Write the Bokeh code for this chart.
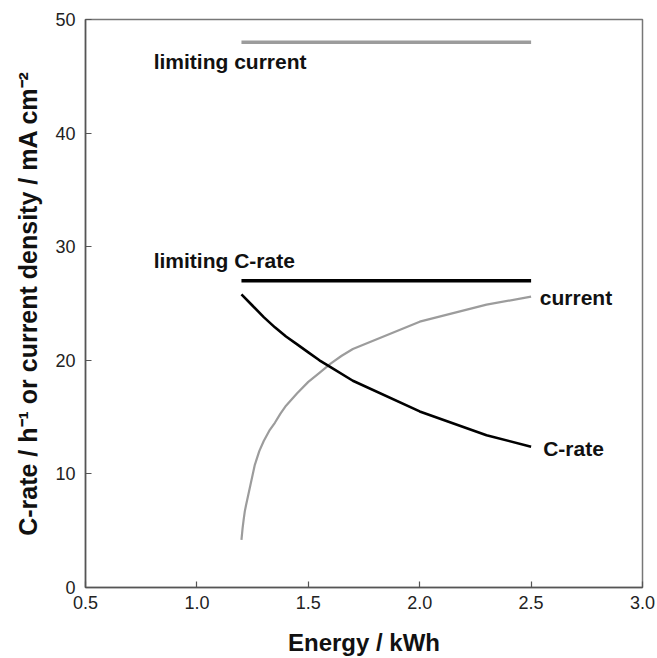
from bokeh.plotting import figure
from bokeh.models import Range1d, FixedTicker, NumeralTickFormatter, Label
from bokeh.embed import file_html
from bokeh.resources import INLINE

# Battery pack energy (kWh) and the resulting C-rate / current density
energy_crate = [1.2, 1.25, 1.3, 1.35, 1.4, 1.45, 1.5, 1.55, 1.6, 1.7, 2.0, 2.3, 2.5]
crate = [25.8, 24.8, 23.8, 22.9, 22.1, 21.4, 20.7, 20.0, 19.4, 18.2, 15.5, 13.4, 12.4]

energy_current = [1.2, 1.205, 1.21, 1.215, 1.22, 1.23, 1.24, 1.26, 1.28, 1.3,
                  1.325, 1.35, 1.375, 1.4, 1.45, 1.5, 1.55, 1.6, 1.65, 1.7,
                  2.0, 2.3, 2.5]
current = [4.2, 5.2, 6.0, 6.7, 7.2, 8.1, 9.0, 10.8, 12.0, 12.9,
           13.8, 14.5, 15.3, 16.0, 17.1, 18.1, 18.9, 19.7, 20.4, 21.0,
           23.4, 24.9, 25.6]

# Horizontal limits
limit_energy = [1.2, 2.5]
limiting_current = [48.0, 48.0]
limiting_crate = [27.0, 27.0]

x_ticks = [0.5, 1.0, 1.5, 2.0, 2.5, 3.0]
y_ticks = [0, 10, 20, 30, 40, 50]

# Annotation texts and anchor points (data units)
note_texts = ["limiting current", "limiting C-rate", "current", "C-rate"]
note_x = [0.806, 0.806, 2.539, 2.554]
note_y = [46.3, 28.8, 25.5, 12.2]

FONT = "Liberation Sans"
GRAY = "#9c9c9c"
AXIS = "#555555"

p = figure(width=657, height=658, output_backend="svg", toolbar_location=None,
           x_range=Range1d(0.5, 3.0), y_range=Range1d(0, 50),
           min_border_left=85, min_border_right=15, min_border_top=19,
           min_border_bottom=71)

p.background_fill_color = "white"
p.border_fill_color = "white"
p.outline_line_color = "#777777"
p.outline_line_width = 1.5
p.xgrid.visible = False
p.ygrid.visible = False

p.xaxis.ticker = FixedTicker(ticks=x_ticks)
p.yaxis.ticker = FixedTicker(ticks=y_ticks)
p.xaxis.formatter = NumeralTickFormatter(format="0.0")
p.yaxis.formatter = NumeralTickFormatter(format="0")

for ax in (p.xaxis, p.yaxis):
    ax.axis_line_color = AXIS
    ax.axis_line_width = 1.5
    ax.major_tick_line_color = AXIS
    ax.major_tick_line_width = 1.2
    ax.major_tick_in = 6
    ax.major_tick_out = 0
    ax.minor_tick_line_color = None
    ax.major_label_text_font = FONT
    ax.major_label_text_font_size = "18px"
    ax.major_label_text_color = "#222222"
    ax.axis_label_text_font = FONT
    ax.axis_label_text_font_style = "bold"
    ax.axis_label_text_color = "#111111"

p.xaxis.major_label_standoff = 8
p.yaxis.major_label_standoff = 10

p.xaxis.axis_label = "Energy / kWh"
p.xaxis.axis_label_text_font_size = "24px"
p.xaxis.axis_label_standoff = 17

p.yaxis.axis_label = "C-rate / h\u207b\u00b9 or current density / mA cm\u207b\u00b2"
p.yaxis.axis_label_text_font_size = "25px"
p.yaxis.axis_label_standoff = 10

# Limits
p.line(limit_energy, limiting_current, line_color=GRAY, line_width=3.5)
p.line(limit_energy, limiting_crate, line_color="black", line_width=3.5)

# Curves
p.line(energy_current, current, line_color=GRAY, line_width=2.2)
p.line(energy_crate, crate, line_color="black", line_width=2.6)

for t, x, y in zip(note_texts, note_x, note_y):
    p.add_layout(Label(x=x, y=y, text=t, text_font=FONT, text_font_size="21px",
                       text_font_style="bold", text_color="#111111",
                       text_align="left", text_baseline="middle"))

open("out.html", "w").write(file_html(p, INLINE))
